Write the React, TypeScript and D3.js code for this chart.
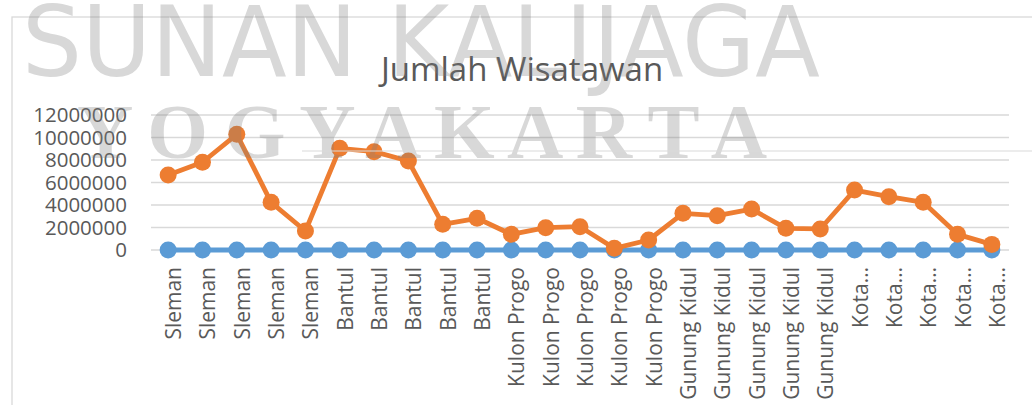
import * as d3 from 'd3';

// categories along the x axis (5 regencies x 5 years)
const categories = [
  'Sleman', 'Sleman', 'Sleman', 'Sleman', 'Sleman',
  'Bantul', 'Bantul', 'Bantul', 'Bantul', 'Bantul',
  'Kulon Progo', 'Kulon Progo', 'Kulon Progo', 'Kulon Progo', 'Kulon Progo',
  'Gunung Kidul', 'Gunung Kidul', 'Gunung Kidul', 'Gunung Kidul', 'Gunung Kidul',
  'Kota…', 'Kota…', 'Kota…', 'Kota…', 'Kota…',
];

// blue series, sits on the zero line
const seriesBlue = [
  0, 0, 0, 0, 0, 0, 0, 0, 0, 0, 0, 0, 0, 0, 0, 0, 0, 0, 0, 0, 0, 0, 0, 0, 0,
];

// orange series: jumlah wisatawan
const wisatawan = [
  6670000, 7800000, 10280000, 4240000, 1690000,
  9040000, 8740000, 7910000, 2280000, 2820000,
  1390000, 1980000, 2070000, 150000, 890000,
  3260000, 3050000, 3640000, 1930000, 1870000,
  5330000, 4740000, 4240000, 1390000, 500000,
];

const yTicks = [0, 2000000, 4000000, 6000000, 8000000, 10000000, 12000000];

const W = 1032;
const H = 405;
const FONT = '"Open Sans", sans-serif';
const TEXT = '#595959';
const GRID = '#d9d9d9';
const BLUE = '#5B9BD5';
const ORANGE = '#ED7D31';

export default function App() {
  const idx = categories.map((_, i) => i);
  const x = d3.scaleBand<number>().domain(idx).range([151, 1009]);
  const cx = (i: number) => (x(i) ?? 0) + x.bandwidth() / 2;
  const y = d3.scaleLinear().domain([0, 12000000]).range([250, 115]);

  const line = d3
    .line<number>()
    .x((_, i) => cx(i))
    .y((d) => y(d));

  const [x0, x1] = x.range();

  return (
    <svg
      width={W}
      height={H}
      style={{ position: 'absolute', left: 0, top: 0, background: '#fff' }}
    >
      {/* chart frame */}
      <rect x={12} y={17} width={W} height={H} fill="#fff" stroke={GRID} strokeWidth={1.3} />

      <text
        x={522}
        y={81}
        textAnchor="middle"
        fontSize={33}
        fontFamily={FONT}
        fill={TEXT}
      >
        Jumlah Wisatawan
      </text>

      {/* gridlines + y labels */}
      {yTicks.map((t) => (
        <g key={`y-${t}`}>
          <line x1={x0} x2={x1} y1={y(t)} y2={y(t)} stroke={GRID} strokeWidth={1.3} />
          <text
            x={127}
            y={y(t)}
            dy="0.36em"
            textAnchor="end"
            fontSize={20.5}
            fontFamily={FONT}
            fill={TEXT}
          >
            {t}
          </text>
        </g>
      ))}

      {/* x labels, rotated */}
      {categories.map((c, i) => (
        <text
          key={`x-${i}`}
          transform={`translate(${cx(i)}, 267) rotate(-90)`}
          dy={13}
          textAnchor="end"
          fontSize={21}
          fontFamily={FONT}
          fill={TEXT}
        >
          {c}
        </text>
      ))}

      {/* blue series */}
      <path d={line(seriesBlue) ?? undefined} fill="none" stroke={BLUE} strokeWidth={4.8} />
      {seriesBlue.map((v, i) => (
        <circle key={`b-${i}`} cx={cx(i)} cy={y(v)} r={8.5} fill={BLUE} />
      ))}

      {/* orange series */}
      <path
        d={line(wisatawan) ?? undefined}
        fill="none"
        stroke={ORANGE}
        strokeWidth={4.8}
        strokeLinejoin="round"
      />
      {wisatawan.map((v, i) => (
        <circle key={`o-${i}`} cx={cx(i)} cy={y(v)} r={8.5} fill={ORANGE} />
      ))}

      {/* watermark overlay */}
      <g fill="#7f7f7f" opacity={0.3}>
        <text
          x={22}
          y={76}
          fontSize={98}
          fontFamily='"DejaVu Sans", sans-serif'
          textLength={798}
          lengthAdjust="spacingAndGlyphs"
        >
          SUNAN KALIJAGA
        </text>
        <text
          x={77}
          y={158}
          fontSize={78}
          fontWeight="bold"
          fontFamily='"Liberation Serif", serif'
          textLength={690}
          lengthAdjust="spacing"
        >
          Y O G Y A K A R T A
        </text>
      </g>
      <line x1={302} x2={W} y1={151} y2={151} stroke={GRID} strokeWidth={1.2} />
    </svg>
  );
}
